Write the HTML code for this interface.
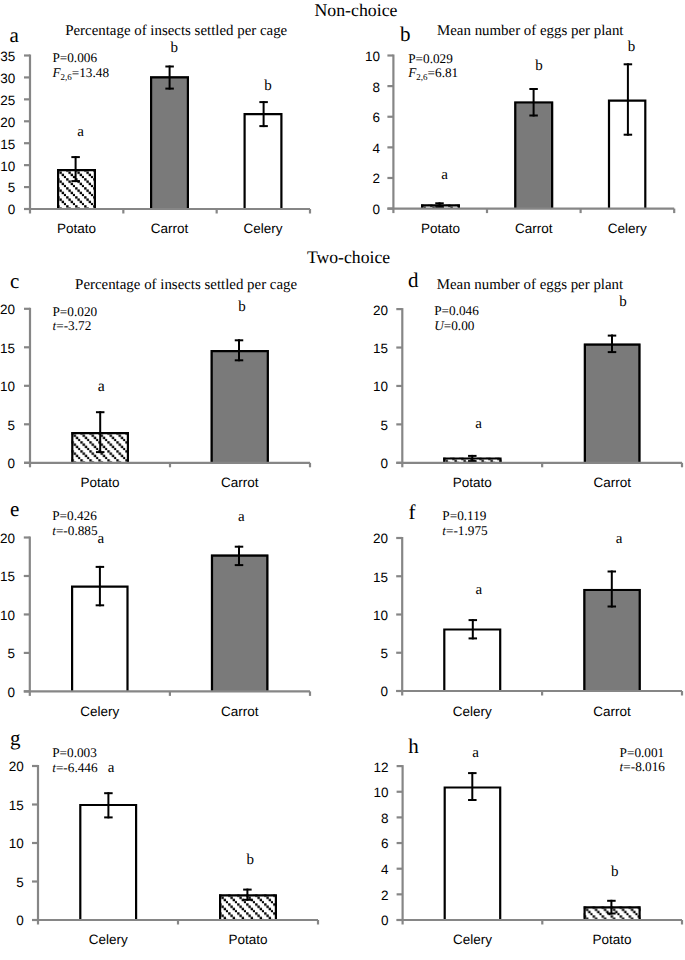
<!DOCTYPE html><html><head><meta charset="utf-8"><style>html,body{margin:0;padding:0;background:#fff;}svg{display:block;text-rendering:geometricPrecision;}</style></head><body>
<svg width="685" height="960" viewBox="0 0 685 960">
<defs><pattern id="hatch" patternUnits="userSpaceOnUse" width="9" height="9"><rect width="9" height="9" fill="#fff"/><path d="M-1,-1 L10,10 M-1,8 L1,10 M8,-1 L10,1" stroke="#000" stroke-width="1.1"/></pattern></defs>
<rect width="685" height="960" fill="#fff"/>
<text x="314.5" y="16" font-size="17.8" font-family="'Liberation Serif', serif" text-anchor="start"  >Non-choice</text>
<text x="306.9" y="262.7" font-size="17.7" font-family="'Liberation Serif', serif" text-anchor="start"  >Two-choice</text>
<text x="9.6" y="41.6" font-size="21" font-family="'Liberation Serif', serif" text-anchor="start"  >a</text>
<text x="65.2" y="34.6" font-size="14.9" font-family="'Liberation Serif', serif" text-anchor="start"  >Percentage of insects settled per cage</text>
<text x="52.4" y="62" font-size="13.25" font-family="'Liberation Serif', serif" text-anchor="start"  >P=0.006</text>
<text x="52.4" y="76.9" font-size="13.25" font-family="'Liberation Serif', serif"><tspan font-style="italic">F</tspan><tspan font-size="9" dy="2.6">2,6</tspan><tspan dy="-2.6">=13.48</tspan></text>
<line x1="24" y1="209.00" x2="30" y2="209.00" stroke="#868686" stroke-width="2.2"/>
<text x="15.2" y="214.40" font-size="13.5" font-family="'Liberation Sans', sans-serif" text-anchor="end"  >0</text>
<line x1="24" y1="187.07" x2="30" y2="187.07" stroke="#868686" stroke-width="2.2"/>
<text x="15.2" y="192.47" font-size="13.5" font-family="'Liberation Sans', sans-serif" text-anchor="end"  >5</text>
<line x1="24" y1="165.14" x2="30" y2="165.14" stroke="#868686" stroke-width="2.2"/>
<text x="15.2" y="170.54" font-size="13.5" font-family="'Liberation Sans', sans-serif" text-anchor="end"  >10</text>
<line x1="24" y1="143.21" x2="30" y2="143.21" stroke="#868686" stroke-width="2.2"/>
<text x="15.2" y="148.61" font-size="13.5" font-family="'Liberation Sans', sans-serif" text-anchor="end"  >15</text>
<line x1="24" y1="121.29" x2="30" y2="121.29" stroke="#868686" stroke-width="2.2"/>
<text x="15.2" y="126.69" font-size="13.5" font-family="'Liberation Sans', sans-serif" text-anchor="end"  >20</text>
<line x1="24" y1="99.36" x2="30" y2="99.36" stroke="#868686" stroke-width="2.2"/>
<text x="15.2" y="104.76" font-size="13.5" font-family="'Liberation Sans', sans-serif" text-anchor="end"  >25</text>
<line x1="24" y1="77.43" x2="30" y2="77.43" stroke="#868686" stroke-width="2.2"/>
<text x="15.2" y="82.83" font-size="13.5" font-family="'Liberation Sans', sans-serif" text-anchor="end"  >30</text>
<line x1="24" y1="55.50" x2="30" y2="55.50" stroke="#868686" stroke-width="2.2"/>
<text x="15.2" y="60.90" font-size="13.5" font-family="'Liberation Sans', sans-serif" text-anchor="end"  >35</text>
<defs><pattern id="h26" patternUnits="userSpaceOnUse" x="57.00" y="169.10" width="9" height="9"><rect width="9" height="9" fill="#fff"/><rect x="0.15" y="0.15" width="2.4" height="2.4"/><rect x="2.40" y="2.40" width="2.4" height="2.4"/><rect x="4.65" y="4.65" width="2.4" height="2.4"/><rect x="6.90" y="6.90" width="2.4" height="2.4"/></pattern></defs>
<rect x="57.00" y="169.10" width="39.00" height="39.90" fill="url(#h26)"/>
<path d="M58.10,209.00 V170.20 H94.90 V209.00" fill="none" stroke="#000" stroke-width="2.2"/>
<line x1="75.6" y1="156.10" x2="75.6" y2="182.10" stroke="#000" stroke-width="2"/>
<line x1="71.35" y1="157.10" x2="79.85" y2="157.10" stroke="#000" stroke-width="2"/>
<line x1="71.35" y1="181.10" x2="79.85" y2="181.10" stroke="#000" stroke-width="2"/>
<text x="76.50" y="232.8" font-size="13.5" font-family="'Liberation Sans', sans-serif" text-anchor="middle"  >Potato</text>
<rect x="150.00" y="76.20" width="39.00" height="132.80" fill="#7a7a7a"/>
<path d="M151.10,209.00 V77.30 H187.90 V209.00" fill="none" stroke="#000" stroke-width="2.2"/>
<line x1="169.6" y1="65.50" x2="169.6" y2="89.60" stroke="#000" stroke-width="2"/>
<line x1="165.35" y1="66.50" x2="173.85" y2="66.50" stroke="#000" stroke-width="2"/>
<line x1="165.35" y1="88.60" x2="173.85" y2="88.60" stroke="#000" stroke-width="2"/>
<text x="169.50" y="232.8" font-size="13.5" font-family="'Liberation Sans', sans-serif" text-anchor="middle"  >Carrot</text>
<rect x="243.50" y="113.10" width="39.00" height="95.90" fill="#fff"/>
<path d="M244.60,209.00 V114.20 H281.40 V209.00" fill="none" stroke="#000" stroke-width="2.2"/>
<line x1="263.6" y1="101.10" x2="263.6" y2="127.10" stroke="#000" stroke-width="2"/>
<line x1="259.35" y1="102.10" x2="267.85" y2="102.10" stroke="#000" stroke-width="2"/>
<line x1="259.35" y1="126.10" x2="267.85" y2="126.10" stroke="#000" stroke-width="2"/>
<text x="263.00" y="232.8" font-size="13.5" font-family="'Liberation Sans', sans-serif" text-anchor="middle"  >Celery</text>
<line x1="30" y1="54.50" x2="30" y2="213.50" stroke="#868686" stroke-width="2.2"/>
<line x1="24" y1="209.00" x2="310" y2="209.00" stroke="#868686" stroke-width="2.2"/>
<line x1="123.33" y1="209.00" x2="123.33" y2="213.50" stroke="#868686" stroke-width="2.2"/>
<line x1="216.67" y1="209.00" x2="216.67" y2="213.50" stroke="#868686" stroke-width="2.2"/>
<line x1="310.00" y1="209.00" x2="310.00" y2="213.50" stroke="#868686" stroke-width="2.2"/>
<text x="80.6" y="136.4" font-size="15" font-family="'Liberation Serif', serif" text-anchor="middle"  >a</text>
<text x="174.3" y="51.7" font-size="15" font-family="'Liberation Serif', serif" text-anchor="middle"  >b</text>
<text x="268" y="90" font-size="15" font-family="'Liberation Serif', serif" text-anchor="middle"  >b</text>
<text x="399.9" y="41.3" font-size="21" font-family="'Liberation Serif', serif" text-anchor="start"  >b</text>
<text x="437" y="34.5" font-size="14.9" font-family="'Liberation Serif', serif" text-anchor="start"  >Mean number of eggs per plant</text>
<text x="408.2" y="62.6" font-size="13.25" font-family="'Liberation Serif', serif" text-anchor="start"  >P=0.029</text>
<text x="408.2" y="77.2" font-size="13.25" font-family="'Liberation Serif', serif"><tspan font-style="italic">F</tspan><tspan font-size="9" dy="2.6">2,6</tspan><tspan dy="-2.6">=6.81</tspan></text>
<line x1="387.4" y1="208.60" x2="393.4" y2="208.60" stroke="#868686" stroke-width="2.2"/>
<text x="380.1" y="214.00" font-size="13.5" font-family="'Liberation Sans', sans-serif" text-anchor="end"  >0</text>
<line x1="387.4" y1="177.98" x2="393.4" y2="177.98" stroke="#868686" stroke-width="2.2"/>
<text x="380.1" y="183.38" font-size="13.5" font-family="'Liberation Sans', sans-serif" text-anchor="end"  >2</text>
<line x1="387.4" y1="147.36" x2="393.4" y2="147.36" stroke="#868686" stroke-width="2.2"/>
<text x="380.1" y="152.76" font-size="13.5" font-family="'Liberation Sans', sans-serif" text-anchor="end"  >4</text>
<line x1="387.4" y1="116.74" x2="393.4" y2="116.74" stroke="#868686" stroke-width="2.2"/>
<text x="380.1" y="122.14" font-size="13.5" font-family="'Liberation Sans', sans-serif" text-anchor="end"  >6</text>
<line x1="387.4" y1="86.12" x2="393.4" y2="86.12" stroke="#868686" stroke-width="2.2"/>
<text x="380.1" y="91.52" font-size="13.5" font-family="'Liberation Sans', sans-serif" text-anchor="end"  >8</text>
<line x1="387.4" y1="55.50" x2="393.4" y2="55.50" stroke="#868686" stroke-width="2.2"/>
<text x="380.1" y="60.90" font-size="13.5" font-family="'Liberation Sans', sans-serif" text-anchor="end"  >10</text>
<defs><pattern id="h69" patternUnits="userSpaceOnUse" x="421.00" y="204.30" width="9" height="9"><rect width="9" height="9" fill="#fff"/><rect x="0.15" y="0.15" width="2.4" height="2.4"/><rect x="2.40" y="2.40" width="2.4" height="2.4"/><rect x="4.65" y="4.65" width="2.4" height="2.4"/><rect x="6.90" y="6.90" width="2.4" height="2.4"/></pattern></defs>
<rect x="421.00" y="204.30" width="39.00" height="4.30" fill="url(#h69)"/>
<path d="M422.10,208.60 V205.40 H458.90 V208.60" fill="none" stroke="#000" stroke-width="2.2"/>
<line x1="439.5" y1="202.30" x2="439.5" y2="208.10" stroke="#000" stroke-width="2"/>
<line x1="435.25" y1="203.30" x2="443.75" y2="203.30" stroke="#000" stroke-width="2"/>
<line x1="435.25" y1="207.10" x2="443.75" y2="207.10" stroke="#000" stroke-width="2"/>
<text x="440.50" y="232.8" font-size="13.5" font-family="'Liberation Sans', sans-serif" text-anchor="middle"  >Potato</text>
<rect x="514.20" y="101.40" width="39.00" height="107.20" fill="#7a7a7a"/>
<path d="M515.30,208.60 V102.50 H552.10 V208.60" fill="none" stroke="#000" stroke-width="2.2"/>
<line x1="533.6" y1="88.00" x2="533.6" y2="116.50" stroke="#000" stroke-width="2"/>
<line x1="529.35" y1="89.00" x2="537.85" y2="89.00" stroke="#000" stroke-width="2"/>
<line x1="529.35" y1="115.50" x2="537.85" y2="115.50" stroke="#000" stroke-width="2"/>
<text x="533.70" y="232.8" font-size="13.5" font-family="'Liberation Sans', sans-serif" text-anchor="middle"  >Carrot</text>
<rect x="607.90" y="99.50" width="38.50" height="109.10" fill="#fff"/>
<path d="M609.00,208.60 V100.60 H645.30 V208.60" fill="none" stroke="#000" stroke-width="2.2"/>
<line x1="627.9" y1="63.30" x2="627.9" y2="135.70" stroke="#000" stroke-width="2"/>
<line x1="623.65" y1="64.30" x2="632.15" y2="64.30" stroke="#000" stroke-width="2"/>
<line x1="623.65" y1="134.70" x2="632.15" y2="134.70" stroke="#000" stroke-width="2"/>
<text x="627.15" y="232.8" font-size="13.5" font-family="'Liberation Sans', sans-serif" text-anchor="middle"  >Celery</text>
<line x1="393.4" y1="54.50" x2="393.4" y2="213.10" stroke="#868686" stroke-width="2.2"/>
<line x1="387.4" y1="208.60" x2="674.2" y2="208.60" stroke="#868686" stroke-width="2.2"/>
<line x1="487.00" y1="208.60" x2="487.00" y2="213.10" stroke="#868686" stroke-width="2.2"/>
<line x1="580.60" y1="208.60" x2="580.60" y2="213.10" stroke="#868686" stroke-width="2.2"/>
<line x1="674.20" y1="208.60" x2="674.20" y2="213.10" stroke="#868686" stroke-width="2.2"/>
<text x="444.5" y="178.7" font-size="15" font-family="'Liberation Serif', serif" text-anchor="middle"  >a</text>
<text x="539" y="69.9" font-size="15" font-family="'Liberation Serif', serif" text-anchor="middle"  >b</text>
<text x="631.5" y="51.3" font-size="15" font-family="'Liberation Serif', serif" text-anchor="middle"  >b</text>
<text x="10" y="287.5" font-size="21" font-family="'Liberation Serif', serif" text-anchor="start"  >c</text>
<text x="75.1" y="289.0" font-size="14.9" font-family="'Liberation Serif', serif" text-anchor="start"  >Percentage of insects settled per cage</text>
<text x="52.5" y="315.5" font-size="13.25" font-family="'Liberation Serif', serif" text-anchor="start"  >P=0.020</text>
<text x="52.5" y="329.9" font-size="13.25" font-family="'Liberation Serif', serif"><tspan font-style="italic">t</tspan>=-3.72</text>
<line x1="24" y1="462.80" x2="30" y2="462.80" stroke="#868686" stroke-width="2.2"/>
<text x="15" y="468.20" font-size="13.5" font-family="'Liberation Sans', sans-serif" text-anchor="end"  >0</text>
<line x1="24" y1="424.30" x2="30" y2="424.30" stroke="#868686" stroke-width="2.2"/>
<text x="15" y="429.70" font-size="13.5" font-family="'Liberation Sans', sans-serif" text-anchor="end"  >5</text>
<line x1="24" y1="385.80" x2="30" y2="385.80" stroke="#868686" stroke-width="2.2"/>
<text x="15" y="391.20" font-size="13.5" font-family="'Liberation Sans', sans-serif" text-anchor="end"  >10</text>
<line x1="24" y1="347.30" x2="30" y2="347.30" stroke="#868686" stroke-width="2.2"/>
<text x="15" y="352.70" font-size="13.5" font-family="'Liberation Sans', sans-serif" text-anchor="end"  >15</text>
<line x1="24" y1="308.80" x2="30" y2="308.80" stroke="#868686" stroke-width="2.2"/>
<text x="15" y="314.20" font-size="13.5" font-family="'Liberation Sans', sans-serif" text-anchor="end"  >20</text>
<defs><pattern id="h110" patternUnits="userSpaceOnUse" x="71.20" y="432.10" width="9" height="9"><rect width="9" height="9" fill="#fff"/><rect x="0.15" y="0.15" width="2.4" height="2.4"/><rect x="2.40" y="2.40" width="2.4" height="2.4"/><rect x="4.65" y="4.65" width="2.4" height="2.4"/><rect x="6.90" y="6.90" width="2.4" height="2.4"/></pattern></defs>
<rect x="71.20" y="432.10" width="57.80" height="30.70" fill="url(#h110)"/>
<path d="M72.30,462.80 V433.20 H127.90 V462.80" fill="none" stroke="#000" stroke-width="2.2"/>
<line x1="100.2" y1="411.20" x2="100.2" y2="453.10" stroke="#000" stroke-width="2"/>
<line x1="95.95" y1="412.20" x2="104.45" y2="412.20" stroke="#000" stroke-width="2"/>
<line x1="95.95" y1="452.10" x2="104.45" y2="452.10" stroke="#000" stroke-width="2"/>
<text x="100.10" y="487.2" font-size="13.5" font-family="'Liberation Sans', sans-serif" text-anchor="middle"  >Potato</text>
<rect x="210.60" y="350.10" width="58.30" height="112.70" fill="#7a7a7a"/>
<path d="M211.70,462.80 V351.20 H267.80 V462.80" fill="none" stroke="#000" stroke-width="2.2"/>
<line x1="239" y1="339.30" x2="239" y2="361.30" stroke="#000" stroke-width="2"/>
<line x1="234.75" y1="340.30" x2="243.25" y2="340.30" stroke="#000" stroke-width="2"/>
<line x1="234.75" y1="360.30" x2="243.25" y2="360.30" stroke="#000" stroke-width="2"/>
<text x="239.75" y="487.2" font-size="13.5" font-family="'Liberation Sans', sans-serif" text-anchor="middle"  >Carrot</text>
<line x1="30" y1="307.80" x2="30" y2="467.30" stroke="#868686" stroke-width="2.2"/>
<line x1="24" y1="462.80" x2="310" y2="462.80" stroke="#868686" stroke-width="2.2"/>
<line x1="170.00" y1="462.80" x2="170.00" y2="467.30" stroke="#868686" stroke-width="2.2"/>
<line x1="310.00" y1="462.80" x2="310.00" y2="467.30" stroke="#868686" stroke-width="2.2"/>
<text x="101.2" y="390.9" font-size="15.8" font-family="'Liberation Serif', serif" text-anchor="middle"  >a</text>
<text x="242" y="310.5" font-size="15" font-family="'Liberation Serif', serif" text-anchor="middle"  >b</text>
<text x="408" y="287.2" font-size="21" font-family="'Liberation Serif', serif" text-anchor="start"  >d</text>
<text x="436.7" y="289" font-size="14.9" font-family="'Liberation Serif', serif" text-anchor="start"  >Mean number of eggs per plant</text>
<text x="434.2" y="315" font-size="13.25" font-family="'Liberation Serif', serif" text-anchor="start"  >P=0.046</text>
<text x="434.2" y="329.9" font-size="13.25" font-family="'Liberation Serif', serif"><tspan font-style="italic">U</tspan>=0.00</text>
<line x1="396.3" y1="462.80" x2="402.3" y2="462.80" stroke="#868686" stroke-width="2.2"/>
<text x="388.1" y="468.20" font-size="13.5" font-family="'Liberation Sans', sans-serif" text-anchor="end"  >0</text>
<line x1="396.3" y1="424.38" x2="402.3" y2="424.38" stroke="#868686" stroke-width="2.2"/>
<text x="388.1" y="429.77" font-size="13.5" font-family="'Liberation Sans', sans-serif" text-anchor="end"  >5</text>
<line x1="396.3" y1="385.95" x2="402.3" y2="385.95" stroke="#868686" stroke-width="2.2"/>
<text x="388.1" y="391.35" font-size="13.5" font-family="'Liberation Sans', sans-serif" text-anchor="end"  >10</text>
<line x1="396.3" y1="347.53" x2="402.3" y2="347.53" stroke="#868686" stroke-width="2.2"/>
<text x="388.1" y="352.93" font-size="13.5" font-family="'Liberation Sans', sans-serif" text-anchor="end"  >15</text>
<line x1="396.3" y1="309.10" x2="402.3" y2="309.10" stroke="#868686" stroke-width="2.2"/>
<text x="388.1" y="314.50" font-size="13.5" font-family="'Liberation Sans', sans-serif" text-anchor="end"  >20</text>
<defs><pattern id="h143" patternUnits="userSpaceOnUse" x="443.10" y="457.40" width="9" height="9"><rect width="9" height="9" fill="#fff"/><rect x="0.15" y="0.15" width="2.4" height="2.4"/><rect x="2.40" y="2.40" width="2.4" height="2.4"/><rect x="4.65" y="4.65" width="2.4" height="2.4"/><rect x="6.90" y="6.90" width="2.4" height="2.4"/></pattern></defs>
<rect x="443.10" y="457.40" width="58.50" height="5.40" fill="url(#h143)"/>
<path d="M444.20,462.80 V458.50 H500.50 V462.80" fill="none" stroke="#000" stroke-width="2.2"/>
<line x1="472.3" y1="454.90" x2="472.3" y2="462.10" stroke="#000" stroke-width="2"/>
<line x1="468.05" y1="455.90" x2="476.55" y2="455.90" stroke="#000" stroke-width="2"/>
<line x1="468.05" y1="461.10" x2="476.55" y2="461.10" stroke="#000" stroke-width="2"/>
<text x="472.35" y="487.2" font-size="13.5" font-family="'Liberation Sans', sans-serif" text-anchor="middle"  >Potato</text>
<rect x="583.80" y="343.60" width="56.70" height="119.20" fill="#7a7a7a"/>
<path d="M584.90,462.80 V344.70 H639.40 V462.80" fill="none" stroke="#000" stroke-width="2.2"/>
<line x1="612" y1="334.60" x2="612" y2="353.10" stroke="#000" stroke-width="2"/>
<line x1="607.75" y1="335.60" x2="616.25" y2="335.60" stroke="#000" stroke-width="2"/>
<line x1="607.75" y1="352.10" x2="616.25" y2="352.10" stroke="#000" stroke-width="2"/>
<text x="612.15" y="487.2" font-size="13.5" font-family="'Liberation Sans', sans-serif" text-anchor="middle"  >Carrot</text>
<line x1="402.3" y1="308.10" x2="402.3" y2="467.30" stroke="#868686" stroke-width="2.2"/>
<line x1="396.3" y1="462.80" x2="682" y2="462.80" stroke="#868686" stroke-width="2.2"/>
<line x1="542.15" y1="462.80" x2="542.15" y2="467.30" stroke="#868686" stroke-width="2.2"/>
<line x1="682.00" y1="462.80" x2="682.00" y2="467.30" stroke="#868686" stroke-width="2.2"/>
<text x="478.6" y="427.6" font-size="15" font-family="'Liberation Serif', serif" text-anchor="middle"  >a</text>
<text x="623" y="305.9" font-size="15" font-family="'Liberation Serif', serif" text-anchor="middle"  >b</text>
<text x="10" y="515.7" font-size="21" font-family="'Liberation Serif', serif" text-anchor="start"  >e</text>
<text x="52.2" y="519.6" font-size="13.25" font-family="'Liberation Serif', serif" text-anchor="start"  >P=0.426</text>
<text x="52.2" y="534.5" font-size="13.25" font-family="'Liberation Serif', serif"><tspan font-style="italic">t</tspan>=-0.885</text>
<line x1="23.8" y1="691.40" x2="29.8" y2="691.40" stroke="#868686" stroke-width="2.2"/>
<text x="15" y="696.80" font-size="13.5" font-family="'Liberation Sans', sans-serif" text-anchor="end"  >0</text>
<line x1="23.8" y1="652.92" x2="29.8" y2="652.92" stroke="#868686" stroke-width="2.2"/>
<text x="15" y="658.32" font-size="13.5" font-family="'Liberation Sans', sans-serif" text-anchor="end"  >5</text>
<line x1="23.8" y1="614.45" x2="29.8" y2="614.45" stroke="#868686" stroke-width="2.2"/>
<text x="15" y="619.85" font-size="13.5" font-family="'Liberation Sans', sans-serif" text-anchor="end"  >10</text>
<line x1="23.8" y1="575.98" x2="29.8" y2="575.98" stroke="#868686" stroke-width="2.2"/>
<text x="15" y="581.38" font-size="13.5" font-family="'Liberation Sans', sans-serif" text-anchor="end"  >15</text>
<line x1="23.8" y1="537.50" x2="29.8" y2="537.50" stroke="#868686" stroke-width="2.2"/>
<text x="15" y="542.90" font-size="13.5" font-family="'Liberation Sans', sans-serif" text-anchor="end"  >20</text>
<rect x="71.00" y="585.60" width="57.60" height="105.80" fill="#fff"/>
<path d="M72.10,691.40 V586.70 H127.50 V691.40" fill="none" stroke="#000" stroke-width="2.2"/>
<line x1="99.9" y1="565.90" x2="99.9" y2="606.30" stroke="#000" stroke-width="2"/>
<line x1="95.65" y1="566.90" x2="104.15" y2="566.90" stroke="#000" stroke-width="2"/>
<line x1="95.65" y1="605.30" x2="104.15" y2="605.30" stroke="#000" stroke-width="2"/>
<text x="99.80" y="715.5" font-size="13.5" font-family="'Liberation Sans', sans-serif" text-anchor="middle"  >Celery</text>
<rect x="210.90" y="554.50" width="57.50" height="136.90" fill="#7a7a7a"/>
<path d="M212.00,691.40 V555.60 H267.30 V691.40" fill="none" stroke="#000" stroke-width="2.2"/>
<line x1="239" y1="545.70" x2="239" y2="566.10" stroke="#000" stroke-width="2"/>
<line x1="234.75" y1="546.70" x2="243.25" y2="546.70" stroke="#000" stroke-width="2"/>
<line x1="234.75" y1="565.10" x2="243.25" y2="565.10" stroke="#000" stroke-width="2"/>
<text x="239.65" y="715.5" font-size="13.5" font-family="'Liberation Sans', sans-serif" text-anchor="middle"  >Carrot</text>
<line x1="29.8" y1="536.50" x2="29.8" y2="695.90" stroke="#868686" stroke-width="2.2"/>
<line x1="23.8" y1="691.40" x2="310" y2="691.40" stroke="#868686" stroke-width="2.2"/>
<line x1="169.90" y1="691.40" x2="169.90" y2="695.90" stroke="#868686" stroke-width="2.2"/>
<line x1="310.00" y1="691.40" x2="310.00" y2="695.90" stroke="#868686" stroke-width="2.2"/>
<text x="100.8" y="542.5" font-size="15" font-family="'Liberation Serif', serif" text-anchor="middle"  >a</text>
<text x="241.4" y="520.9" font-size="15" font-family="'Liberation Serif', serif" text-anchor="middle"  >a</text>
<text x="408.6" y="518.5" font-size="21" font-family="'Liberation Serif', serif" text-anchor="start"  >f</text>
<text x="442.3" y="519.6" font-size="13.25" font-family="'Liberation Serif', serif" text-anchor="start"  >P=0.119</text>
<text x="442.3" y="534.5" font-size="13.25" font-family="'Liberation Serif', serif"><tspan font-style="italic">t</tspan>=-1.975</text>
<line x1="396.2" y1="691.00" x2="402.2" y2="691.00" stroke="#868686" stroke-width="2.2"/>
<text x="388.1" y="696.40" font-size="13.5" font-family="'Liberation Sans', sans-serif" text-anchor="end"  >0</text>
<line x1="396.2" y1="652.75" x2="402.2" y2="652.75" stroke="#868686" stroke-width="2.2"/>
<text x="388.1" y="658.15" font-size="13.5" font-family="'Liberation Sans', sans-serif" text-anchor="end"  >5</text>
<line x1="396.2" y1="614.50" x2="402.2" y2="614.50" stroke="#868686" stroke-width="2.2"/>
<text x="388.1" y="619.90" font-size="13.5" font-family="'Liberation Sans', sans-serif" text-anchor="end"  >10</text>
<line x1="396.2" y1="576.25" x2="402.2" y2="576.25" stroke="#868686" stroke-width="2.2"/>
<text x="388.1" y="581.65" font-size="13.5" font-family="'Liberation Sans', sans-serif" text-anchor="end"  >15</text>
<line x1="396.2" y1="538.00" x2="402.2" y2="538.00" stroke="#868686" stroke-width="2.2"/>
<text x="388.1" y="543.40" font-size="13.5" font-family="'Liberation Sans', sans-serif" text-anchor="end"  >20</text>
<rect x="443.20" y="628.40" width="58.10" height="62.60" fill="#fff"/>
<path d="M444.30,691.00 V629.50 H500.20 V691.00" fill="none" stroke="#000" stroke-width="2.2"/>
<line x1="472.8" y1="619.10" x2="472.8" y2="639.40" stroke="#000" stroke-width="2"/>
<line x1="468.55" y1="620.10" x2="477.05" y2="620.10" stroke="#000" stroke-width="2"/>
<line x1="468.55" y1="638.40" x2="477.05" y2="638.40" stroke="#000" stroke-width="2"/>
<text x="472.25" y="715.5" font-size="13.5" font-family="'Liberation Sans', sans-serif" text-anchor="middle"  >Celery</text>
<rect x="583.30" y="588.90" width="57.50" height="102.10" fill="#7a7a7a"/>
<path d="M584.40,691.00 V590.00 H639.70 V691.00" fill="none" stroke="#000" stroke-width="2.2"/>
<line x1="611.8" y1="570.50" x2="611.8" y2="607.50" stroke="#000" stroke-width="2"/>
<line x1="607.55" y1="571.50" x2="616.05" y2="571.50" stroke="#000" stroke-width="2"/>
<line x1="607.55" y1="606.50" x2="616.05" y2="606.50" stroke="#000" stroke-width="2"/>
<text x="612.05" y="715.5" font-size="13.5" font-family="'Liberation Sans', sans-serif" text-anchor="middle"  >Carrot</text>
<line x1="402.2" y1="537.00" x2="402.2" y2="695.50" stroke="#868686" stroke-width="2.2"/>
<line x1="396.2" y1="691.00" x2="682" y2="691.00" stroke="#868686" stroke-width="2.2"/>
<line x1="542.10" y1="691.00" x2="542.10" y2="695.50" stroke="#868686" stroke-width="2.2"/>
<line x1="682.00" y1="691.00" x2="682.00" y2="695.50" stroke="#868686" stroke-width="2.2"/>
<text x="478.8" y="593.5" font-size="15" font-family="'Liberation Serif', serif" text-anchor="middle"  >a</text>
<text x="619" y="542.5" font-size="15" font-family="'Liberation Serif', serif" text-anchor="middle"  >a</text>
<text x="9.9" y="745" font-size="21" font-family="'Liberation Serif', serif" text-anchor="start"  >g</text>
<text x="52.2" y="756.6" font-size="13.25" font-family="'Liberation Serif', serif" text-anchor="start"  >P=0.003</text>
<text x="52.2" y="771.7" font-size="13.25" font-family="'Liberation Serif', serif"><tspan font-style="italic">t</tspan>=-6.446</text>
<line x1="32" y1="920.00" x2="38" y2="920.00" stroke="#868686" stroke-width="2.2"/>
<text x="23.8" y="925.40" font-size="13.5" font-family="'Liberation Sans', sans-serif" text-anchor="end"  >0</text>
<line x1="32" y1="881.50" x2="38" y2="881.50" stroke="#868686" stroke-width="2.2"/>
<text x="23.8" y="886.90" font-size="13.5" font-family="'Liberation Sans', sans-serif" text-anchor="end"  >5</text>
<line x1="32" y1="843.00" x2="38" y2="843.00" stroke="#868686" stroke-width="2.2"/>
<text x="23.8" y="848.40" font-size="13.5" font-family="'Liberation Sans', sans-serif" text-anchor="end"  >10</text>
<line x1="32" y1="804.50" x2="38" y2="804.50" stroke="#868686" stroke-width="2.2"/>
<text x="23.8" y="809.90" font-size="13.5" font-family="'Liberation Sans', sans-serif" text-anchor="end"  >15</text>
<line x1="32" y1="766.00" x2="38" y2="766.00" stroke="#868686" stroke-width="2.2"/>
<text x="23.8" y="771.40" font-size="13.5" font-family="'Liberation Sans', sans-serif" text-anchor="end"  >20</text>
<rect x="79.20" y="803.90" width="58.00" height="116.10" fill="#fff"/>
<path d="M80.30,920.00 V805.00 H136.10 V920.00" fill="none" stroke="#000" stroke-width="2.2"/>
<line x1="108.4" y1="792.20" x2="108.4" y2="818.40" stroke="#000" stroke-width="2"/>
<line x1="104.15" y1="793.20" x2="112.65" y2="793.20" stroke="#000" stroke-width="2"/>
<line x1="104.15" y1="817.40" x2="112.65" y2="817.40" stroke="#000" stroke-width="2"/>
<text x="108.20" y="944" font-size="13.5" font-family="'Liberation Sans', sans-serif" text-anchor="middle"  >Celery</text>
<defs><pattern id="h243" patternUnits="userSpaceOnUse" x="219.00" y="894.20" width="9" height="9"><rect width="9" height="9" fill="#fff"/><rect x="0.15" y="0.15" width="2.4" height="2.4"/><rect x="2.40" y="2.40" width="2.4" height="2.4"/><rect x="4.65" y="4.65" width="2.4" height="2.4"/><rect x="6.90" y="6.90" width="2.4" height="2.4"/></pattern></defs>
<rect x="219.00" y="894.20" width="58.00" height="25.80" fill="url(#h243)"/>
<path d="M220.10,920.00 V895.30 H275.90 V920.00" fill="none" stroke="#000" stroke-width="2.2"/>
<line x1="247.4" y1="888.60" x2="247.4" y2="900.80" stroke="#000" stroke-width="2"/>
<line x1="243.15" y1="889.60" x2="251.65" y2="889.60" stroke="#000" stroke-width="2"/>
<line x1="243.15" y1="899.80" x2="251.65" y2="899.80" stroke="#000" stroke-width="2"/>
<text x="248.00" y="944" font-size="13.5" font-family="'Liberation Sans', sans-serif" text-anchor="middle"  >Potato</text>
<line x1="38" y1="765.00" x2="38" y2="924.50" stroke="#868686" stroke-width="2.2"/>
<line x1="32" y1="920.00" x2="318" y2="920.00" stroke="#868686" stroke-width="2.2"/>
<line x1="178.00" y1="920.00" x2="178.00" y2="924.50" stroke="#868686" stroke-width="2.2"/>
<line x1="318.00" y1="920.00" x2="318.00" y2="924.50" stroke="#868686" stroke-width="2.2"/>
<text x="111" y="771.7" font-size="15" font-family="'Liberation Serif', serif" text-anchor="middle"  >a</text>
<text x="250.3" y="864.2" font-size="15" font-family="'Liberation Serif', serif" text-anchor="middle"  >b</text>
<text x="408.2" y="753.3" font-size="21" font-family="'Liberation Serif', serif" text-anchor="start"  >h</text>
<text x="619.6" y="756.8" font-size="13.25" font-family="'Liberation Serif', serif" text-anchor="start"  >P=0.001</text>
<text x="619.6" y="771.2" font-size="13.25" font-family="'Liberation Serif', serif"><tspan font-style="italic">t</tspan>=-8.016</text>
<line x1="396.6" y1="920.00" x2="402.6" y2="920.00" stroke="#868686" stroke-width="2.2"/>
<text x="388.5" y="925.40" font-size="13.5" font-family="'Liberation Sans', sans-serif" text-anchor="end"  >0</text>
<line x1="396.6" y1="894.35" x2="402.6" y2="894.35" stroke="#868686" stroke-width="2.2"/>
<text x="388.5" y="899.75" font-size="13.5" font-family="'Liberation Sans', sans-serif" text-anchor="end"  >2</text>
<line x1="396.6" y1="868.70" x2="402.6" y2="868.70" stroke="#868686" stroke-width="2.2"/>
<text x="388.5" y="874.10" font-size="13.5" font-family="'Liberation Sans', sans-serif" text-anchor="end"  >4</text>
<line x1="396.6" y1="843.05" x2="402.6" y2="843.05" stroke="#868686" stroke-width="2.2"/>
<text x="388.5" y="848.45" font-size="13.5" font-family="'Liberation Sans', sans-serif" text-anchor="end"  >6</text>
<line x1="396.6" y1="817.40" x2="402.6" y2="817.40" stroke="#868686" stroke-width="2.2"/>
<text x="388.5" y="822.80" font-size="13.5" font-family="'Liberation Sans', sans-serif" text-anchor="end"  >8</text>
<line x1="396.6" y1="791.75" x2="402.6" y2="791.75" stroke="#868686" stroke-width="2.2"/>
<text x="388.5" y="797.15" font-size="13.5" font-family="'Liberation Sans', sans-serif" text-anchor="end"  >10</text>
<line x1="396.6" y1="766.10" x2="402.6" y2="766.10" stroke="#868686" stroke-width="2.2"/>
<text x="388.5" y="771.50" font-size="13.5" font-family="'Liberation Sans', sans-serif" text-anchor="end"  >12</text>
<rect x="443.60" y="786.40" width="57.70" height="133.60" fill="#fff"/>
<path d="M444.70,920.00 V787.50 H500.20 V920.00" fill="none" stroke="#000" stroke-width="2.2"/>
<line x1="472.3" y1="772.10" x2="472.3" y2="801.00" stroke="#000" stroke-width="2"/>
<line x1="468.05" y1="773.10" x2="476.55" y2="773.10" stroke="#000" stroke-width="2"/>
<line x1="468.05" y1="800.00" x2="476.55" y2="800.00" stroke="#000" stroke-width="2"/>
<text x="472.45" y="944" font-size="13.5" font-family="'Liberation Sans', sans-serif" text-anchor="middle"  >Celery</text>
<defs><pattern id="h279" patternUnits="userSpaceOnUse" x="583.50" y="906.20" width="9" height="9"><rect width="9" height="9" fill="#fff"/><rect x="0.15" y="0.15" width="2.4" height="2.4"/><rect x="2.40" y="2.40" width="2.4" height="2.4"/><rect x="4.65" y="4.65" width="2.4" height="2.4"/><rect x="6.90" y="6.90" width="2.4" height="2.4"/></pattern></defs>
<rect x="583.50" y="906.20" width="57.20" height="13.80" fill="url(#h279)"/>
<path d="M584.60,920.00 V907.30 H639.60 V920.00" fill="none" stroke="#000" stroke-width="2.2"/>
<line x1="611.4" y1="899.80" x2="611.4" y2="914.50" stroke="#000" stroke-width="2"/>
<line x1="607.15" y1="900.80" x2="615.65" y2="900.80" stroke="#000" stroke-width="2"/>
<line x1="607.15" y1="913.50" x2="615.65" y2="913.50" stroke="#000" stroke-width="2"/>
<text x="612.10" y="944" font-size="13.5" font-family="'Liberation Sans', sans-serif" text-anchor="middle"  >Potato</text>
<line x1="402.6" y1="765.10" x2="402.6" y2="924.50" stroke="#868686" stroke-width="2.2"/>
<line x1="396.6" y1="920.00" x2="682" y2="920.00" stroke="#868686" stroke-width="2.2"/>
<line x1="542.30" y1="920.00" x2="542.30" y2="924.50" stroke="#868686" stroke-width="2.2"/>
<line x1="682.00" y1="920.00" x2="682.00" y2="924.50" stroke="#868686" stroke-width="2.2"/>
<text x="475.7" y="756.5" font-size="15" font-family="'Liberation Serif', serif" text-anchor="middle"  >a</text>
<text x="614.8" y="876.2" font-size="15" font-family="'Liberation Serif', serif" text-anchor="middle"  >b</text>
</svg></body></html>
